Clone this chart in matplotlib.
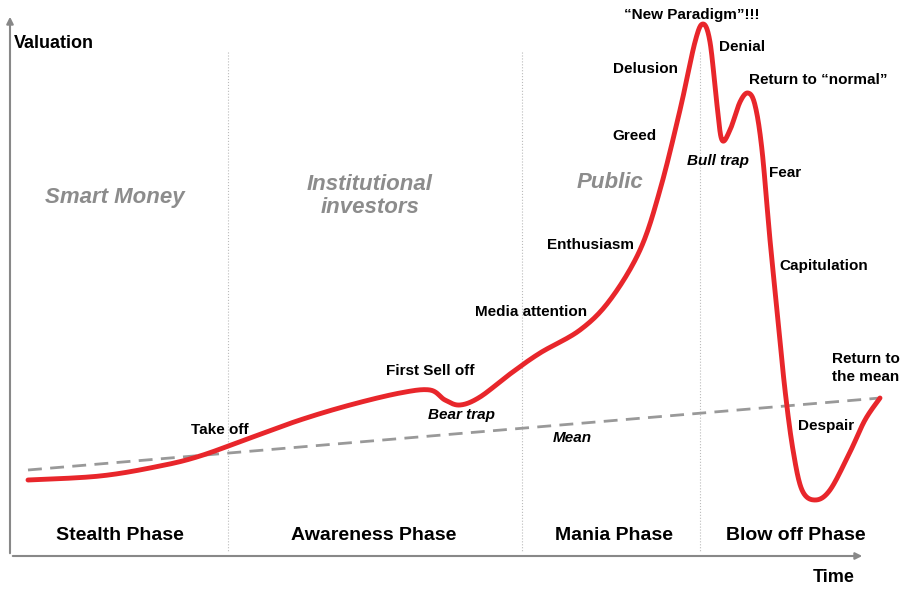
import matplotlib
matplotlib.use("Agg")
import matplotlib.pyplot as plt
import numpy as np

plt.rcParams['font.family'] = ['Liberation Sans', 'DejaVu Sans']

# curve control points (time, valuation) in picture units
curve_x = [28,100,160,200,250,300,350,400,430,445,460,480,510,540,580,610,640,660,680,695,703,710,717,722,730,740,748,755,762,770,778,785,793,802,815,830,850,865,880]
curve_y = [480,476,466,456,438,420,405,393,390,400,405,397,374,353,330,300,250,190,110,42,24,42,105,140,130,102,93,105,150,240,320,390,450,490,500,490,452,420,398]
mean_x = [28, 880]
mean_y = [470, 398]
dividers = [228, 522, 700]
phases = [("Stealth Phase",120),("Awareness Phase",374),("Mania Phase",614),("Blow off Phase",796)]
groups = [("Smart Money",115,198),("Institutional\ninvestors",370,196),("Public",610,182)]
labels = [("Take off",220,430,'normal'),("First Sell off",430,371,'normal'),("Bear trap",462,415,'italic'),
          ("Media attention",531,312,'normal'),("Mean",572,438,'italic'),("Enthusiasm",590,245,'normal'),
          ("Greed",634,136,'normal'),("Delusion",645,69,'normal'),("\u201cNew Paradigm\u201d!!!",692,15,'normal'),
          ("Denial",742,47,'normal'),("Return to \u201cnormal\u201d",818,80,'normal'),("Bull trap",718,161,'italic'),
          ("Fear",785,173,'normal'),("Capitulation",824,266,'normal'),("Despair",826,426,'normal')]

def catmull(xs, ys, n=20):
    P = np.array(list(zip(xs, ys)), float)
    P = np.vstack([P[0], P, P[-1]])
    out = []
    for i in range(1, len(P)-2):
        p0,p1,p2,p3 = P[i-1],P[i],P[i+1],P[i+2]
        for t in np.linspace(0,1,n,endpoint=False):
            out.append(0.5*((2*p1)+(-p0+p2)*t+(2*p0-5*p1+4*p2-p3)*t**2+(-p0+3*p1-3*p2+p3)*t**3))
    out.append(P[-2])
    return np.array(out)

fig = plt.figure(figsize=(9,5.92), dpi=100)
ax = fig.add_axes([0,0,1,1])
ax.set_xlim(0,900); ax.set_ylim(592,0); ax.axis('off')

for d in dividers:
    ax.plot([d,d],[52,552],color='#bbbbbb',lw=0.8,ls=':')
ax.plot(mean_x, mean_y, color='#999999', lw=2, ls=(0,(5,3)))
c = catmull(curve_x, curve_y)
ax.plot(c[:,0], c[:,1], color='#e8262b', lw=3.5, solid_capstyle='round')

ax.annotate('', xy=(10,14), xytext=(10,556), arrowprops=dict(arrowstyle='-|>',color='#888888',lw=1.5))
ax.annotate('', xy=(865,556), xytext=(10,556), arrowprops=dict(arrowstyle='-|>',color='#888888',lw=1.5))
ax.text(14,43,"Valuation",fontsize=13,fontweight='bold',va='center')
ax.text(834,577,"Time",fontsize=13,fontweight='bold',va='center',ha='center')
ax.text(866,368,"Return to\nthe mean",fontsize=11,fontweight='bold',va='center',ha='center',linespacing=1.3)

for t,x in phases:
    ax.text(x,535,t,fontsize=14,fontweight='bold',ha='center',va='center')
for t,x,y in groups:
    ax.text(x,y,t,fontsize=16,fontweight='bold',style='italic',color='#8c8c8c',ha='center',va='center',linespacing=1.1)
for t,x,y,s in labels:
    ax.text(x,y,t,fontsize=11,fontweight='bold',style=s,ha='center',va='center')

fig.savefig('out.png', dpi=100, facecolor='white')
